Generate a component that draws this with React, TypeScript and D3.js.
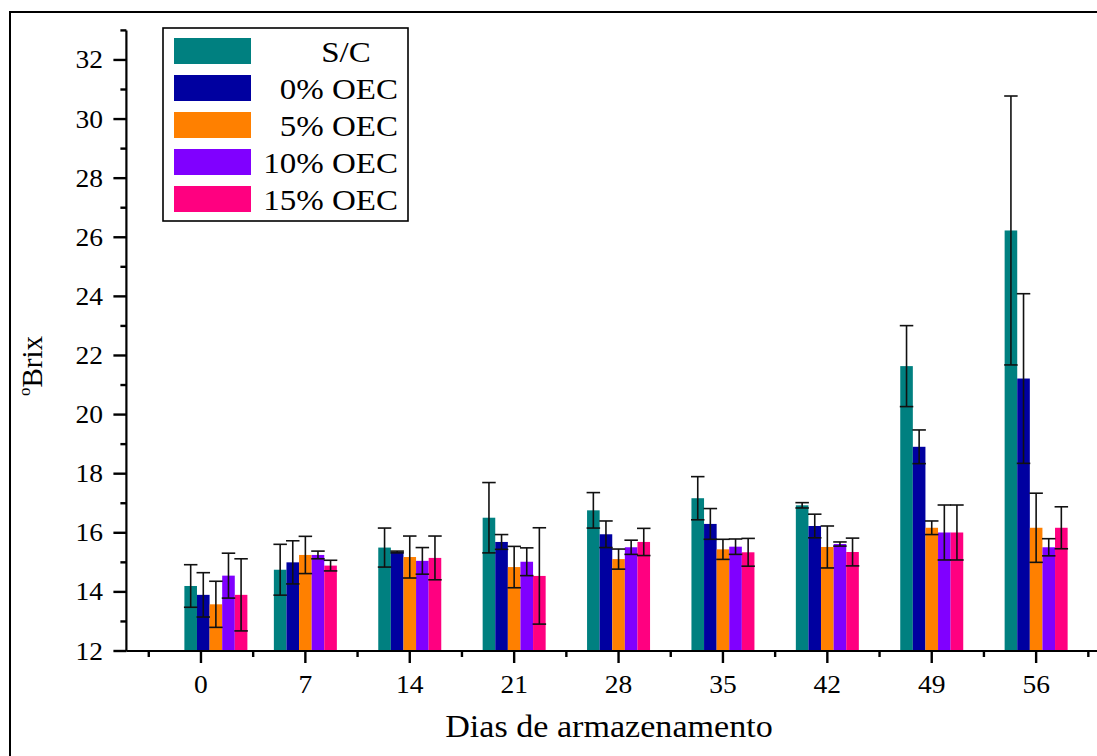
import * as d3 from "d3";

// storage days (first sampling sits just right of the 0 tick)
const days = [1, 7, 14, 21, 28, 35, 42, 49, 56];
const dayTicks = [0, 7, 14, 21, 28, 35, 42, 49, 56];
const seriesNames = ["S/C", "0% OEC", "5% OEC", "10% OEC", "15% OEC"];
const seriesColors = ["#008080", "#0000A0", "#FF8000", "#8000FF", "#FF0080"];

const sc = [14.2, 14.75, 15.5, 16.51, 16.76, 17.17, 16.93, 21.64, 26.23];
const scErr = [0.72, 0.86, 0.66, 1.19, 0.6, 0.73, 0.09, 1.37, 4.55];
const oec0 = [13.9, 15.0, 15.35, 15.69, 15.95, 16.3, 16.23, 18.91, 21.22];
const oec0Err = [0.75, 0.73, 0.03, 0.25, 0.45, 0.52, 0.4, 0.57, 2.87];
const oec5 = [13.58, 15.25, 15.18, 14.84, 15.11, 15.44, 15.52, 16.17, 16.17];
const oec5Err = [0.78, 0.63, 0.71, 0.7, 0.34, 0.34, 0.71, 0.23, 1.17];
const oec10 = [14.55, 15.25, 15.05, 15.02, 15.51, 15.53, 15.62, 16.01, 15.51];
const oec10Err = [0.76, 0.13, 0.45, 0.47, 0.24, 0.26, 0.07, 0.93, 0.29];
const oec15 = [13.9, 14.89, 15.15, 14.54, 15.69, 15.34, 15.35, 16.01, 16.17];
const oec15Err = [1.22, 0.18, 0.74, 1.63, 0.46, 0.47, 0.47, 0.93, 0.71];

const values = [sc, oec0, oec5, oec10, oec15];
const errors = [scErr, oec0Err, oec5Err, oec10Err, oec15Err];

const W = 1097;
const H = 756;
const FONT = "'Liberation Serif', 'Times New Roman', serif";
const STRETCH = 1.1;

const x = d3.scaleLinear().domain([-5, 61]).range([126.4, 1110.7]);
const y = d3.scaleLinear().domain([12, 33]).range([651, 30.4]);
const barW = 12.6;
const capW = 13.5;

const yTicks = d3.range(12, 34, 1);

// text drawn slightly wide, like the source
const T = ({ x: tx, y: ty, size, anchor = "start", children }: any) => (
  <text
    transform={`translate(${tx},${ty}) scale(${STRETCH},1)`}
    fontSize={size}
    fontFamily={FONT}
    textAnchor={anchor}
    fill="#000"
  >
    {children}
  </text>
);

export default function App() {
  const axisY = y(12);
  return (
    <svg
      width={W}
      height={H}
      style={{ position: "absolute", left: 0, top: 0, background: "#fff" }}
    >
      <rect x={0} y={0} width={W} height={H} fill="#fff" />
      {/* outer frame */}
      <rect x={10} y={12} width={1110} height={760} fill="none" stroke="#000" strokeWidth={2} />

      {/* bars */}
      {values.map((vals, s) =>
        vals.map((v, i) => {
          const cx = x(days[i]) + (s - 2) * barW;
          return (
            <rect
              key={`b${s}-${i}`}
              x={cx - barW / 2}
              y={y(v)}
              width={barW}
              height={axisY - y(v)}
              fill={seriesColors[s]}
            />
          );
        })
      )}

      {/* error bars */}
      {values.map((vals, s) =>
        vals.map((v, i) => {
          const cx = x(days[i]) + (s - 2) * barW;
          const e = errors[s][i];
          const top = y(v + e);
          const bot = y(v - e);
          return (
            <g key={`e${s}-${i}`} stroke="#111" strokeWidth={1.6}>
              <line x1={cx} x2={cx} y1={top} y2={bot} />
              <line x1={cx - capW / 2} x2={cx + capW / 2} y1={top} y2={top} />
              <line x1={cx - capW / 2} x2={cx + capW / 2} y1={bot} y2={bot} />
            </g>
          );
        })
      )}

      {/* y axis */}
      <line x1={x(-5)} x2={x(-5)} y1={y(33)} y2={axisY} stroke="#000" strokeWidth={2.2} />
      {yTicks.map((t) => {
        const major = t % 2 === 0;
        return (
          <g key={`yt${t}`}>
            <line
              x1={x(-5) - (major ? 13 : 6)}
              x2={x(-5)}
              y1={y(t)}
              y2={y(t)}
              stroke="#000"
              strokeWidth={2.4}
            />
            {major && (
              <T x={103} y={y(t) + 8.5} size={25} anchor="end">
                {t}
              </T>
            )}
          </g>
        );
      })}

      {/* x axis */}
      <line x1={x(-5)} x2={W} y1={axisY} y2={axisY} stroke="#000" strokeWidth={2.2} />
      {d3.range(-3.5, 61, 3.5).map((t) => {
        const major = Math.abs(t % 7) < 1e-6;
        return (
          <line
            key={`xt${t}`}
            x1={x(t)}
            x2={x(t)}
            y1={axisY}
            y2={axisY + (major ? 12 : 6)}
            stroke="#000"
            strokeWidth={2.4}
          />
        );
      })}
      {dayTicks.map((t) => (
        <T key={`xl${t}`} x={x(t)} y={693} size={25} anchor="middle">
          {t}
        </T>
      ))}

      {/* axis titles */}
      <T x={609} y={737} size={31} anchor="middle">
        Dias de armazenamento
      </T>
      <text
        transform={`translate(42,366) rotate(-90)`}
        fontSize={29}
        fontFamily={FONT}
        textAnchor="middle"
      >
        <tspan fontSize={17} dy={-12}>o</tspan>
        <tspan dy={12}>Brix</tspan>
      </text>

      {/* legend */}
      <rect x={163} y={28} width={245} height={193} fill="#fff" stroke="#000" strokeWidth={1.6} />
      {seriesNames.map((name, i) => (
        <g key={`lg${i}`}>
          <rect x={174} y={38 + i * 37} width={77} height={26} fill={seriesColors[i]} />
          {i === 0 ? (
            <T x={346} y={62 + i * 37} size={30} anchor="middle">
              {name}
            </T>
          ) : (
            <T x={398} y={62 + i * 37} size={30} anchor="end">
              {name}
            </T>
          )}
        </g>
      ))}
    </svg>
  );
}
